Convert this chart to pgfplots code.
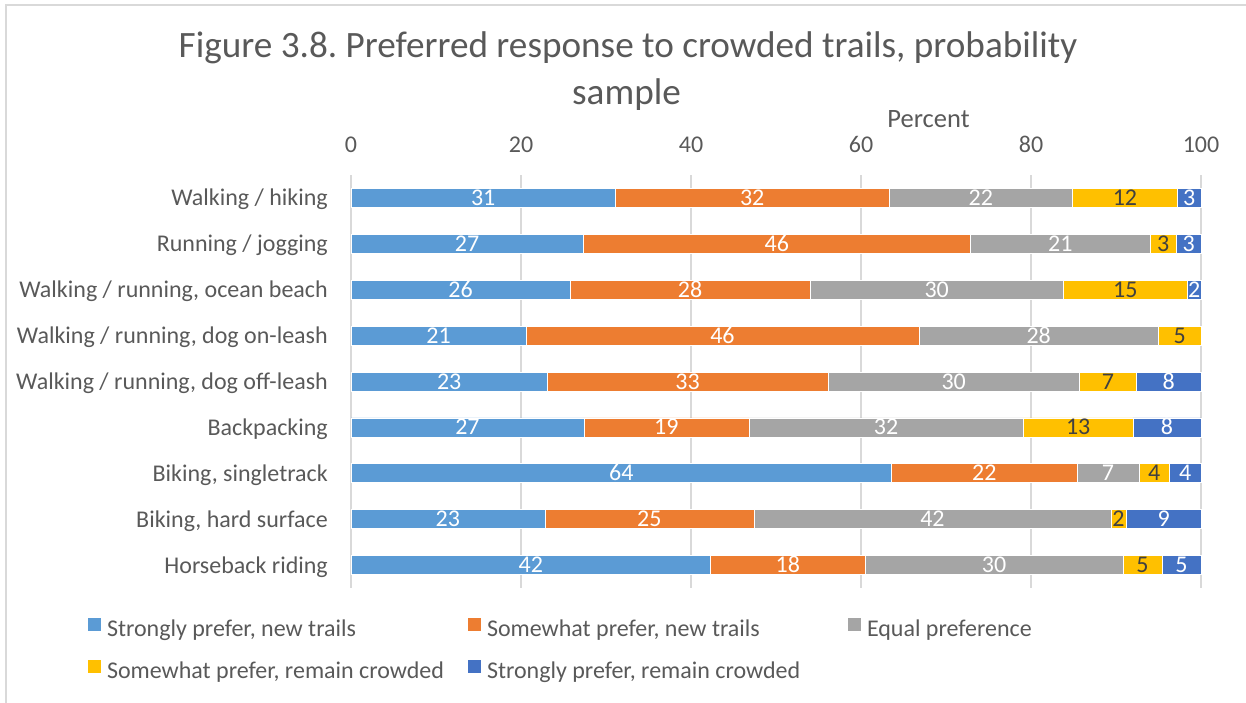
\documentclass[border=0pt]{standalone}
\usepackage{pgfplots}
\pgfplotsset{compat=1.18}
\usepackage{pgfplotstable}
\usepackage{fontspec}
\setmainfont{Carlito}
\frenchspacing
\definecolor{c1}{HTML}{5B9BD5}
\definecolor{c2}{HTML}{ED7D31}
\definecolor{c3}{HTML}{A5A5A5}
\definecolor{c4}{HTML}{FFC000}
\definecolor{c5}{HTML}{4472C4}
\definecolor{txtc}{HTML}{595959}
\definecolor{gridc}{HTML}{D9D9D9}
\definecolor{darkc}{HTML}{404040}

% y: 0 Walking/hiking ... 8 Horseback riding
% a: Strongly prefer, new trails; b: Somewhat prefer, new trails; c: Equal preference;
% d: Somewhat prefer, remain crowded; e: Strongly prefer, remain crowded; la..le: data labels
\pgfplotstableread{
y a    b    c    d    e   la lb lc ld le
0 31.1 32.2 21.6 12.3 2.8 31 32 22 12 3
1 27.3 45.6 21.1 3.1  2.9 27 46 21 3  3
2 25.8 28.2 29.8 14.6 1.6 26 28 30 15 2
3 20.6 46.2 28.2 5.0  0   21 46 28 5  {}
4 23.1 33.0 29.6 6.7  7.6 23 33 30 7  8
5 27.4 19.4 32.3 12.9 8.0 27 19 32 13 8
6 63.6 21.8 7.3  3.6  3.7 64 22 7  4  4
7 22.8 24.6 42.0 1.8  8.8 23 25 42 2  9
8 42.3 18.2 30.3 4.6  4.6 42 18 30 5  5
}\trails

\newcommand{\fs}{\fontsize{24}{28}\selectfont}

\pgfplotsset{
  frame/.style={
    at={(351pt,-175pt)}, anchor=north west,
    scale only axis, width=850pt, height=413pt,
    xmin=0, xmax=100, ymin=-0.5, ymax=8.5, y dir=reverse,
    enlargelimits=false, clip=false,
  },
  lab/.style={draw=none, mark=none, nodes near coords, point meta=explicit symbolic,
    every node near coord/.append style={anchor=base, inner sep=0pt, yshift=-7.5pt, font=\fs, color=#1}},
}

\begin{document}
\begin{tikzpicture}[x=1pt,y=1pt]
\useasboundingbox (0,0) rectangle (1246,-702);
\draw[gridc, line width=1.5pt] (6,-710) -- (6,-5) -- (1260,-5);
\node[anchor=base, font=\fontsize{37.2}{44}\selectfont, text=txtc] at (628,-57) {Figure 3.8. Preferred response to crowded trails, probability};
\node[anchor=base, font=\fontsize{37.2}{44}\selectfont, text=txtc] at (626.5,-104) {sample};
\node[anchor=base, font=\fontsize{26.5}{30}\selectfont, text=txtc] at (928.5,-127) {Percent};
\begin{axis}[
  frame,
  xbar stacked, bar width=19pt,
  xtick={0,20,...,100}, ytick={0,...,8},
  yticklabels={Walking / hiking, Running / jogging, {Walking / running, ocean beach}, {Walking / running, dog on-leash}, {Walking / running, dog off-leash}, Backpacking, {Biking, singletrack}, {Biking, hard surface}, Horseback riding},
  xticklabel pos=upper,
  xmajorgrids, major grid style={gridc, line width=1.2pt},
  axis line style={draw=none}, major tick length=0pt,
  tick label style={font=\fs, color=txtc},
  /pgf/number format/assume math mode=true,
  xticklabel style={anchor=base, inner sep=0pt, yshift=23pt},
  yticklabel style={anchor=base east, inner sep=0pt, xshift=-23pt, yshift=-8pt},
  legend columns=3,
  legend image code/.code={\fill[#1, draw=none] (0pt,0pt) rectangle (13pt,13pt);},
  legend style={at={(axis description cs:-0.30941,-0.07264)}, anchor=north west, draw=none, fill=none, inner sep=0pt, outer sep=0pt, row sep=17pt, font=\fs, text=txtc, nodes={inner sep=0pt, text height=17pt, text depth=6pt}, /tikz/every odd column/.append style={column sep=6pt}},
]
\addplot[fill=c1, draw=white, line width=0.6pt] table[x=a,y=y] {\trails};
\addlegendentry{\makebox[361pt][l]{Strongly prefer, new trails}}
\addplot[fill=c2, draw=white, line width=0.6pt] table[x=b,y=y] {\trails};
\addlegendentry{\makebox[361pt][l]{Somewhat prefer, new trails}}
\addplot[fill=c3, draw=white, line width=0.6pt] table[x=c,y=y] {\trails};
\addlegendentry{\makebox[361pt][l]{Equal preference}}
\addplot[fill=c4, draw=white, line width=0.6pt] table[x=d,y=y] {\trails};
\addlegendentry{\makebox[361pt][l]{Somewhat prefer, remain crowded}}
\addplot[fill=c5, draw=white, line width=0.6pt] table[x=e,y=y] {\trails};
\addlegendentry{\makebox[361pt][l]{Strongly prefer, remain crowded}}
\end{axis}
% data labels, centred in each segment
\begin{axis}[frame, hide axis]
\addplot[lab=white] table[x expr=\thisrow{a}/2, y=y, meta=la] {\trails};
\addplot[lab=white] table[x expr=\thisrow{a}+\thisrow{b}/2, y=y, meta=lb] {\trails};
\addplot[lab=white] table[x expr=\thisrow{a}+\thisrow{b}+\thisrow{c}/2, y=y, meta=lc] {\trails};
\addplot[lab=darkc] table[x expr=\thisrow{a}+\thisrow{b}+\thisrow{c}+\thisrow{d}/2, y=y, meta=ld] {\trails};
\addplot[lab=white] table[x expr=\thisrow{a}+\thisrow{b}+\thisrow{c}+\thisrow{d}+\thisrow{e}/2, y=y, meta=le] {\trails};
\end{axis}
\end{tikzpicture}
\end{document}
